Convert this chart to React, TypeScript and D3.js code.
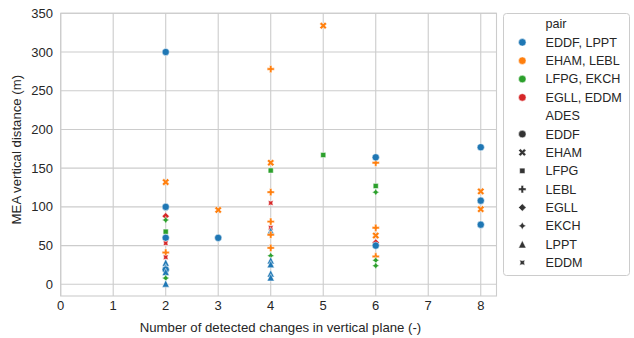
import React from "react";
import * as d3 from "d3";

// Scatter of MEA vertical distance against number of detected vertical changes
const changes = [
  2, 2, 2, 2, 2, 2, 2, 2, 2, 2, 2, 2, 2, 2, 2, 2,
  3, 3,
  4, 4, 4, 4, 4, 4, 4, 4, 4, 4, 4, 4, 4, 4, 4,
  5, 5,
  6, 6, 6, 6, 6, 6, 6, 6, 6, 6, 6,
  8, 8, 8, 8, 8,
];
const meaDistance = [
  300, 132, 100, 88, 83, 68, 60, 53, 41, 35, 28, 22, 19, 16, 8, 1,
  96, 60,
  278, 157, 147, 119, 105, 81, 73, 69, 64, 47, 37, 31, 26, 14, 9,
  334, 167,
  157, 164, 127, 119, 73, 63, 54, 50, 36, 31, 24,
  177, 120, 108, 97, 77,
];
const pairOf = [
  "EDDF, LPPT", "EHAM, LEBL", "EDDF, LPPT", "EGLL, EDDM", "LFPG, EKCH", "LFPG, EKCH", "EDDF, LPPT", "EGLL, EDDM",
  "EHAM, LEBL", "EGLL, EDDM", "EDDF, LPPT", "EDDF, LPPT", "EDDF, LPPT", "EDDF, LPPT", "LFPG, EKCH", "EDDF, LPPT",
  "EHAM, LEBL", "EDDF, LPPT",
  "EHAM, LEBL", "EHAM, LEBL", "LFPG, EKCH", "EHAM, LEBL", "EGLL, EDDM", "EHAM, LEBL", "EGLL, EDDM", "EDDF, LPPT",
  "EHAM, LEBL", "EHAM, LEBL", "LFPG, EKCH", "EDDF, LPPT", "EDDF, LPPT", "EDDF, LPPT", "EDDF, LPPT",
  "EHAM, LEBL", "LFPG, EKCH",
  "EHAM, LEBL", "EDDF, LPPT", "LFPG, EKCH", "LFPG, EKCH", "EHAM, LEBL", "EHAM, LEBL", "EGLL, EDDM", "EDDF, LPPT",
  "EHAM, LEBL", "LFPG, EKCH", "LFPG, EKCH",
  "EDDF, LPPT", "EHAM, LEBL", "EDDF, LPPT", "EHAM, LEBL", "EDDF, LPPT",
];
const adesOf = [
  "EDDF", "EHAM", "EDDF", "EGLL", "EKCH", "LFPG", "EDDF", "EDDM",
  "LEBL", "EDDM", "LPPT", "LPPT", "EDDF", "LPPT", "EKCH", "LPPT",
  "EHAM", "EDDF",
  "LEBL", "EHAM", "LFPG", "LEBL", "EDDM", "LEBL", "EDDM", "LPPT",
  "LEBL", "LEBL", "EKCH", "LPPT", "LPPT", "LPPT", "LPPT",
  "EHAM", "LFPG",
  "LEBL", "EDDF", "LFPG", "EKCH", "LEBL", "EHAM", "EGLL", "EDDF",
  "LEBL", "EKCH", "EKCH",
  "EDDF", "EHAM", "EDDF", "EHAM", "EDDF",
];

const pairs = ["EDDF, LPPT", "EHAM, LEBL", "LFPG, EKCH", "EGLL, EDDM"];
const pairColors = ["#1f77b4", "#ff7f0e", "#2ca02c", "#d62728"];
const adesList = ["EDDF", "EHAM", "LFPG", "LEBL", "EGLL", "EKCH", "LPPT", "EDDM"];
const xTicks = [0, 1, 2, 3, 4, 5, 6, 7, 8];
const yTicks = [0, 50, 100, 150, 200, 250, 300, 350];

const W = 634;
const H = 338;
const plot = { left: 60.7, right: 496.5, top: 13.3, bottom: 296 };
const FONT = "'Liberation Sans', Arial, sans-serif";
const GRID = "#cccccc";
const TEXT = "#262626";

// marker outlines in unit size (extent about +/-0.5), matplotlib style
function polygon(n: number, rotDeg: number, r = 0.5) {
  const pts: [number, number][] = [];
  for (let i = 0; i < n; i++) {
    const a = (rotDeg * Math.PI) / 180 + (2 * Math.PI * i) / n + Math.PI / 2;
    pts.push([r * Math.cos(a), -r * Math.sin(a)]);
  }
  return pts;
}
function star(n: number, rotDeg: number) {
  const pts: [number, number][] = [];
  for (let i = 0; i < 2 * n; i++) {
    const rr = i % 2 === 0 ? 0.5 : 0.25;
    const a = (rotDeg * Math.PI) / 180 + (Math.PI * i) / n + Math.PI / 2;
    pts.push([rr * Math.cos(a), -rr * Math.sin(a)]);
  }
  return pts;
}
const xFilled: [number, number][] = [
  [-1, -2], [0, -1], [1, -2], [2, -1], [1, 0], [2, 1], [1, 2], [0, 1], [-1, 2], [-2, 1], [-1, 0], [-2, -1],
].map(([a, b]) => [a / 4, b / 4] as [number, number]);
const plusFilled: [number, number][] = [
  [-1, -3], [1, -3], [1, -1], [3, -1], [3, 1], [1, 1], [1, 3], [-1, 3], [-1, 1], [-3, 1], [-3, -1], [-1, -1],
].map(([a, b]) => [a / 6, b / 6] as [number, number]);
const triUp: [number, number][] = [[0, -0.5], [-0.5, 0.5], [0.5, 0.5]];

const shapeOf: Record<string, [number, number][] | null> = {
  EDDF: null,
  EHAM: xFilled,
  LFPG: polygon(4, 45),
  LEBL: plusFilled,
  EGLL: polygon(4, 0),
  EKCH: star(4, 0),
  LPPT: triUp,
  EDDM: star(4, 45),
};

function markerPath(ades: string, size: number) {
  const pts = shapeOf[ades];
  if (!pts) {
    const r = size / 2;
    return `M${r},0A${r},${r},0,1,1,${-r},0A${r},${r},0,1,1,${r},0Z`;
  }
  const line = d3.line();
  return line(pts.map(([a, b]) => [a * size, b * size] as [number, number])) + "Z";
}

export default function App() {
  const x = d3.scaleLinear().domain([0, 8.3]).range([plot.left, plot.right]);
  const y = d3.scaleLinear().domain([-15.1, 350]).range([plot.bottom, plot.top]);
  const size = 7.2;
  const colorOf = d3.scaleOrdinal<string, string>().domain(pairs).range(pairColors);

  const legendX = 503.5;
  const legendY = 13.5;
  const rowH = 18.35;
  const legendRows: { label: string; kind: "title" | "pair" | "ades"; key: string }[] = [
    { label: "pair", kind: "title", key: "t1" },
    ...pairs.map((p) => ({ label: p, kind: "pair" as const, key: p })),
    { label: "ADES", kind: "title", key: "t2" },
    ...adesList.map((a) => ({ label: a, kind: "ades" as const, key: a })),
  ];

  return (
    <svg
      width={W}
      height={H}
      style={{ position: "absolute", left: 0, top: 0, background: "#fff" }}
      fontFamily={FONT}
    >
      <rect x={0} y={0} width={W} height={H} fill="#fff" />
      {/* grid */}
      {xTicks.map((t) => (
        <line key={"gx" + t} x1={x(t)} x2={x(t)} y1={plot.top} y2={plot.bottom} stroke={GRID} strokeWidth={1.1} />
      ))}
      {yTicks.map((t) => (
        <line key={"gy" + t} x1={plot.left} x2={plot.right} y1={y(t)} y2={y(t)} stroke={GRID} strokeWidth={1.1} />
      ))}
      <rect
        x={plot.left}
        y={plot.top}
        width={plot.right - plot.left}
        height={plot.bottom - plot.top}
        fill="none"
        stroke={GRID}
        strokeWidth={1.1}
      />
      {/* tick labels */}
      {xTicks.map((t) => (
        <text key={"tx" + t} x={x(t)} y={310} fontSize={13} fill={TEXT} textAnchor="middle">
          {t}
        </text>
      ))}
      {yTicks.map((t) => (
        <text key={"ty" + t} x={53} y={y(t)} dy="0.35em" fontSize={13} fill={TEXT} textAnchor="end">
          {t}
        </text>
      ))}
      <text x={280.5} y={331.5} fontSize={13.2} fill={TEXT} textAnchor="middle">
        Number of detected changes in vertical plane (-)
      </text>
      <text
        transform={`translate(21,${(plot.top + plot.bottom) / 2 - 5}) rotate(-90)`}
        fontSize={13.2}
        fill={TEXT}
        textAnchor="middle"
      >
        MEA vertical distance (m)
      </text>
      {/* points */}
      {changes.map((c, i) => (
        <path
          key={"p" + i}
          d={markerPath(adesOf[i], size)}
          transform={`translate(${x(c)},${y(meaDistance[i])})`}
          fill={colorOf(pairOf[i])}
          stroke="#fff"
          strokeWidth={0.5}
        />
      ))}
      {/* legend */}
      <rect
        x={legendX}
        y={legendY}
        width={126}
        height={262}
        rx={3}
        fill="#fff"
        fillOpacity={0.8}
        stroke={GRID}
        strokeWidth={1}
      />
      {legendRows.map((r, i) => {
        const cy = 24 + i * rowH;
        return (
          <g key={r.key}>
            {r.kind === "pair" && (
              <path d={markerPath("EDDF", 7.5)} transform={`translate(522.3,${cy})`} fill={colorOf(r.label)} stroke="#fff" strokeWidth={0.5} />
            )}
            {r.kind === "ades" && (
              <path d={markerPath(r.label, 7.5)} transform={`translate(522.3,${cy})`} fill="#333333" stroke="#fff" strokeWidth={0.5} />
            )}
            <text x={545.5} y={cy} dy="0.35em" fontSize={12.6} fill={TEXT}>
              {r.label}
            </text>
          </g>
        );
      })}
    </svg>
  );
}
